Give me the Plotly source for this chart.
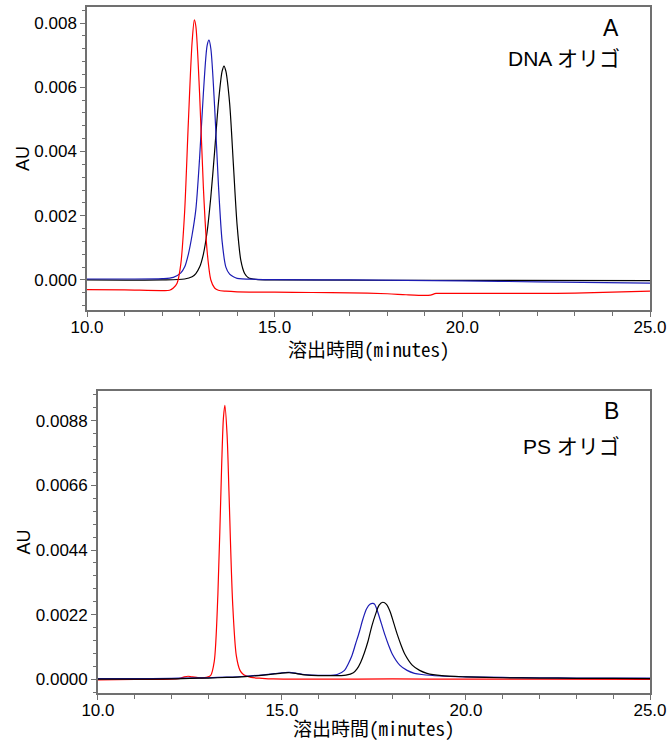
import plotly.graph_objects as go

# ---------------- Panel A : DNA オリゴ ----------------
a_red_x = [10, 11, 12, 12.2, 12.3, 12.4, 12.5, 12.6, 12.7, 12.8, 12.86, 12.9, 13.0, 13.1, 13.2, 13.3, 13.4, 13.5,
           13.7, 14, 15, 16, 17, 18, 18.5, 19.0, 19.15, 19.3, 19.6, 20, 21, 22, 23, 24, 25]
a_red_y = [-0.00030, -0.00031, -0.00033, -0.00032, -0.00025, -0.00010, 0.0005, 0.0021, 0.0049, 0.0074, 0.0081,
           0.0079, 0.0058, 0.0029, 0.0009, 0.0000, -0.00025, -0.00032,
           -0.00035, -0.00037, -0.00038, -0.00039, -0.00040, -0.00043, -0.00046, -0.00048, -0.00047, -0.00042,
           -0.00042, -0.00042, -0.00042, -0.00042, -0.00041, -0.00038, -0.00035]

a_blue_x = [10, 11, 12, 12.3, 12.5, 12.6, 12.7, 12.8, 12.9, 13.0, 13.1, 13.2, 13.25, 13.3, 13.4, 13.5, 13.6, 13.7,
            13.8, 13.9, 14.0, 14.5, 15, 17, 20, 22, 25]
a_blue_y = [0.00003, 0.00003, 0.00004, 0.00008, 0.00022, 0.0004, 0.0008, 0.0014, 0.0022, 0.0038, 0.0058, 0.0073,
            0.00747, 0.0072, 0.0054, 0.0030, 0.0012, 0.0004,
            0.00018, 0.0001, 0.00005, 0.00002, 0.00001, 0.0, -0.00003, -0.00006, -0.0001]

a_black_x = [10, 12, 12.6, 12.8, 12.9, 13.0, 13.1, 13.2, 13.3, 13.4, 13.5, 13.6, 13.65, 13.7, 13.8, 13.9, 14.0,
             14.1, 14.2, 14.3, 14.5, 15, 20, 25]
a_black_y = [0.0, 0.0, 0.00003, 0.0001, 0.0002, 0.0004, 0.0008, 0.0015, 0.0026, 0.0040, 0.0055, 0.0065, 0.00666,
             0.0065, 0.0055, 0.0036, 0.0017, 0.0006, 0.0002, 0.00007, 0.00002, 0.0, -0.00001, -0.00002]

# ---------------- Panel B : PS オリゴ ----------------
b_red_x = [10, 11, 12, 12.2, 12.35, 12.45, 12.55, 12.75, 12.95, 13.06, 13.16, 13.26, 13.36, 13.41, 13.45, 13.51,
           13.56, 13.66, 13.76, 13.86, 13.96, 14.16, 14.46, 14.76, 16, 18, 20, 22, 25]
b_red_y = [-0.00002, -0.00001, 0.0, 0.00002, 0.00008, 0.0001, 0.00008, 0.00005, 0.00006, 0.00012, 0.0006, 0.0029,
           0.0072, 0.0089, 0.00933, 0.0083,
           0.0064, 0.0026, 0.0008, 0.0003, 0.00015, 0.00006, 0.00003, 0.00001, 0.0, 0.00001, 0.0, 0.0, -0.00001]

b_blue_x = [10, 11, 12, 12.5, 13, 13.5, 14, 14.5, 14.8, 15.0, 15.2, 15.4, 15.6, 15.8, 16.2, 16.5, 16.7, 16.8, 16.9,
            17.0, 17.1, 17.2, 17.3, 17.4, 17.47, 17.52, 17.6, 17.7, 17.8, 17.9, 18.0, 18.2, 18.4, 18.6, 18.8,
            19.3, 20, 21, 22, 23, 24, 25]
b_blue_y = [0.00002, 0.00002, 0.00003, 0.00004, 0.00005, 0.00007, 0.0001, 0.00015, 0.00019, 0.00022, 0.00023,
            0.0002, 0.00016, 0.00014, 0.00013, 0.00016, 0.0003, 0.00052, 0.0008,
            0.0012, 0.0016, 0.00205, 0.0024, 0.00256, 0.00258, 0.00255, 0.0023, 0.0019, 0.0015, 0.00115, 0.00085,
            0.00048, 0.0003, 0.0002, 0.00016,
            0.00011, 0.00008, 0.00006, 0.00005, 0.00004, 0.00004, 0.00004]

b_black_x = [10, 11, 12, 12.5, 13, 13.5, 14, 14.5, 14.8, 15.0, 15.2, 15.4, 15.6, 15.8, 16.3, 16.74, 16.94, 17.04,
             17.14, 17.24, 17.34, 17.44, 17.54, 17.64, 17.74, 17.84, 17.94, 18.04, 18.14, 18.24, 18.34, 18.54,
             18.74, 18.94, 19.34, 20, 21, 22, 23, 24, 25]
b_black_y = [0.0, 0.0, 0.00001, 0.00003, 0.00004, 0.00006, 0.00009, 0.00014, 0.00018, 0.00021, 0.00022, 0.00019,
             0.00015, 0.00013, 0.00012, 0.00014, 0.00022, 0.00035,
             0.00058, 0.0009, 0.0013, 0.0018, 0.0022, 0.00252, 0.00262, 0.00255, 0.0023, 0.0019, 0.0015, 0.00115,
             0.00085, 0.00048,
             0.0003, 0.0002, 0.00012, 0.00008, 0.00005, 0.00004, 0.00003, 0.00003, 0.00002]

panel_labels = ["A", "B"]
panel_titles = ["DNA オリゴ", "PS オリゴ"]
x_title = "溶出時間(minutes)"
y_title = "AU"

RED = "#ff0000"
BLUE = "#1c1cb4"
BLACK = "#000000"

fig = go.Figure()

def add(x, y, color, xa, ya):
    fig.add_trace(go.Scatter(x=x, y=y, mode="lines", xaxis=xa, yaxis=ya,
                             line=dict(color=color, width=1.2, shape="spline", smoothing=0.8),
                             showlegend=False, hoverinfo="x+y"))

add(a_black_x, a_black_y, BLACK, "x", "y")
add(a_blue_x, a_blue_y, BLUE, "x", "y")
add(a_red_x, a_red_y, RED, "x", "y")
add(b_red_x, b_red_y, RED, "x2", "y2")
add(b_blue_x, b_blue_y, BLUE, "x2", "y2")
add(b_black_x, b_black_y, BLACK, "x2", "y2")

SANS = "Liberation Sans, Arial, sans-serif"
TICKFONT = dict(family=SANS, size=17, color="#000")
JPFONT = dict(family="Noto Sans Mono CJK JP, Noto Sans CJK JP, sans-serif", size=19, color="#000")
LINE = "#707070"

xcommon = dict(range=[10, 25], dtick=5, tick0=10, tickformat=".1f", showline=True, linecolor=LINE, linewidth=1.5,
               mirror=True, ticks="outside", ticklen=5, tickcolor=LINE, showgrid=False, zeroline=False,
               tickfont=TICKFONT, ticklabelstandoff=-4,
               minor=dict(dtick=1, ticks="outside", ticklen=4, tickcolor=LINE))
ycommon = dict(showline=True, linecolor=LINE, linewidth=1.5, mirror=True, ticks="outside", ticklen=5,
               tickcolor=LINE, showgrid=False, zeroline=False, tickfont=TICKFONT,
               title=dict(text=y_title, font=dict(family=SANS, size=18, color="#000"), standoff=0))

top_dom = [0.5581, 1.0]
bot_dom = [0.0, 0.4404]

fig.update_layout(
    width=672, height=744,
    margin=dict(l=87, r=18, t=5, b=51),
    paper_bgcolor="white", plot_bgcolor="white",
    xaxis=dict(**xcommon, domain=[0, 1], anchor="y"),
    yaxis=dict(**ycommon, domain=top_dom, anchor="x", range=[-0.00094, 0.0085], dtick=0.002, tick0=0,
               tickformat=".3f", minor=dict(dtick=0.0004, tick0=0, ticks="outside", ticklen=3, tickcolor=LINE)),
    xaxis2=dict(**xcommon, domain=[0.0194, 1], anchor="y2"),
    yaxis2=dict(**ycommon, domain=bot_dom, anchor="x2", range=[-0.00047, 0.00982], dtick=0.0022, tick0=0,
                tickformat=".4f", minor=dict(dtick=0.00044, tick0=0, ticks="outside", ticklen=3, tickcolor=LINE)),
)

# x-axis titles (placed below each panel's tick labels)
fig.add_annotation(xref="x domain", yref="paper", x=0.5, y=0.5029, text=x_title, showarrow=False,
                   xanchor="center", yanchor="middle", font=JPFONT)
fig.add_annotation(xref="x2 domain", yref="paper", x=0.5, y=-0.0505, text=x_title, showarrow=False,
                   xanchor="center", yanchor="middle", font=JPFONT)

ann_pos = [("y", 0.932, 0.829), ("y2", 0.932, 0.816)]
for (ya, yl, yt), lab, ttl in zip(ann_pos, panel_labels, panel_titles):
    fig.add_annotation(xref="paper", yref=ya + " domain", x=0.948, y=yl, text=lab, showarrow=False,
                       xanchor="right", yanchor="middle", font=dict(family=SANS, size=23, color="#000"))
    fig.add_annotation(xref="paper", yref=ya + " domain", x=0.95, y=yt, text=ttl, showarrow=False,
                       xanchor="right", yanchor="middle",
                       font=dict(family="Liberation Sans, Noto Sans CJK JP, sans-serif", size=21, color="#000"))

fig.write_html("out.html", config={"displayModeBar": False},
               post_script="document.body.style.margin='0';document.body.style.padding='0';")
